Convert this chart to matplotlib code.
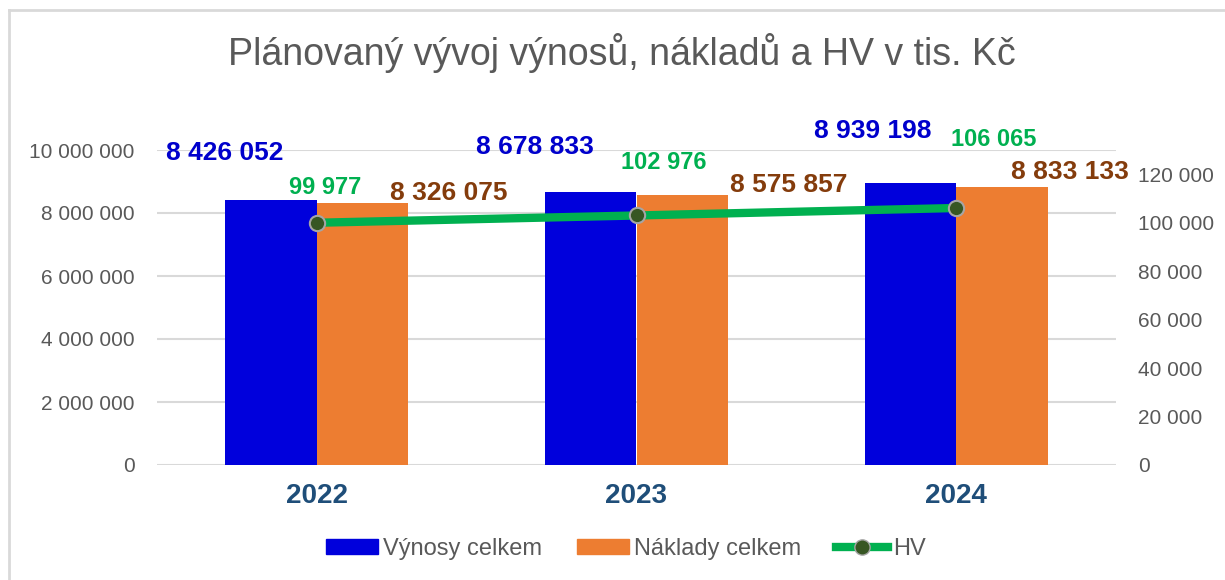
"""
Plánovaný vývoj výnosů, nákladů a HV - bar + line combo chart
"""

import numpy as np
import matplotlib.pyplot as plt
from matplotlib.patches import Rectangle
from matplotlib.lines import Line2D

plt.rcParams['font.family'] = ['Liberation Sans', 'DejaVu Sans']

# Data (tis. Kč)
years = ['2022', '2023', '2024']
vynosy = [8426052, 8678833, 8939198]
naklady = [8326075, 8575857, 8833133]
hv = [99977, 102976, 106065]

# label offsets in pixels (x, y) from the data point to the label baseline
off_vyn = [(-46, 40), (-56, 38), (-38, 45)]
off_nak = [(86, 3), (106, 3), (68, 8)]
off_hv = [(8, 29), (27, 46), (38, 62)]


def fmt(v):
    return f'{v:,.0f}'.replace(',', ' ')


blue = '#0000DC'
orange = '#ED7D31'
green = '#00B050'
gray_txt = '#595959'
grid_col = '#D9D9D9'

fig = plt.figure(figsize=(12.25, 5.8), dpi=100)
ax = fig.add_axes([157 / 1225, 115 / 580, 959 / 1225, 315 / 580])
ax2 = ax.twinx()

x = np.arange(len(years))
w = 0.286
ax.bar(x - w / 2, vynosy, w, color=blue, label='Výnosy celkem', zorder=2)
ax.bar(x + w / 2, naklady, w, color=orange, label='Náklady celkem', zorder=2)

ax.set_xlim(-0.5, 2.5)
ax.set_ylim(0, 10000000)
ax.set_yticks(np.arange(0, 10000001, 2000000))
ax.set_yticklabels([fmt(v) for v in ax.get_yticks()])
ax.grid(axis='y', color=grid_col, linewidth=1.5, zorder=0)
ax.set_axisbelow(True)
for s in ax.spines.values():
    s.set_visible(False)
ax.tick_params(axis='y', length=0, pad=16, labelsize=15, labelcolor=gray_txt)
ax.set_xticks(x)
ax.set_xticklabels(years, fontsize=20, fontweight='bold', color='#1F4E79')
ax.tick_params(axis='x', length=0, pad=13)

ax2.plot(x, hv, color=green, linewidth=6, marker='o', markersize=11,
         markerfacecolor='#375623', markeredgecolor='#A5A5A5',
         markeredgewidth=1.5, label='HV', zorder=3, solid_capstyle='butt')
ax2.set_ylim(0, 130000)
ax2.set_yticks(np.arange(0, 120001, 20000))
ax2.set_yticklabels([fmt(v) for v in ax2.get_yticks()])
for s in ax2.spines.values():
    s.set_visible(False)
ax2.tick_params(axis='y', length=0, pad=16, labelsize=15, labelcolor=gray_txt)

# data labels
for i in range(len(years)):
    ax.annotate(fmt(vynosy[i]), (x[i] - w / 2, vynosy[i]), xytext=off_vyn[i],
                textcoords='offset pixels', ha='center', va='baseline',
                fontsize=19, fontweight='bold', color='#0000CC', zorder=5)
    ax.annotate(fmt(naklady[i]), (x[i] + w / 2, naklady[i]), xytext=off_nak[i],
                textcoords='offset pixels', ha='center', va='baseline',
                fontsize=19, fontweight='bold', color='#843C0C', zorder=5)
    ax2.annotate(fmt(hv[i]), (x[i], hv[i]), xytext=off_hv[i],
                 textcoords='offset pixels', ha='center', va='baseline',
                 fontsize=17, fontweight='bold', color=green, zorder=5)

fig.text(622 / 1225, 1 - 53 / 580, 'Plánovaný vývoj výnosů, nákladů a HV v tis. Kč',
         ha='center', va='center', fontsize=27, color=gray_txt)

# legend
handles = [Rectangle((0, 0), 1, 1, color=blue),
           Rectangle((0, 0), 1, 1, color=orange),
           Line2D([], [], color=green, linewidth=6, marker='o', markersize=11,
                  markerfacecolor='#375623', markeredgecolor='#A5A5A5')]
fig.legend(handles, ['Výnosy celkem', 'Náklady celkem', 'HV'],
           loc='center', bbox_to_anchor=(626 / 1225, 1 - 549 / 580), ncol=3,
           frameon=False, fontsize=17, labelcolor=gray_txt,
           handlelength=2.2, handleheight=0.6, handletextpad=0.2,
           columnspacing=1.5)

# outer chart border
fig.add_artist(Line2D([9 / 1225, 9 / 1225], [0, 1 - 10 / 580],
                      transform=fig.transFigure, color='#D9D9D9', linewidth=2))
fig.add_artist(Line2D([9 / 1225, 1], [1 - 10 / 580, 1 - 10 / 580],
                      transform=fig.transFigure, color='#D9D9D9', linewidth=2))

plt.savefig('out.png', dpi=100)
plt.close()
